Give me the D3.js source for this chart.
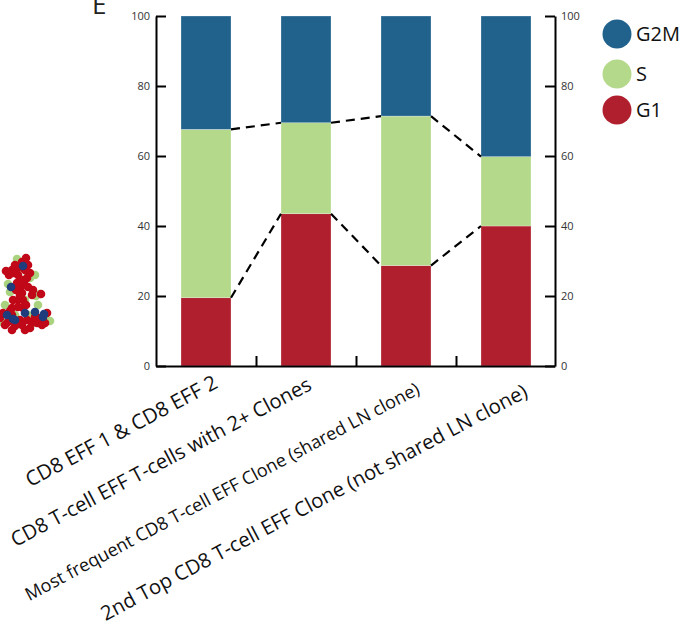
<!DOCTYPE html>
<html>
<head>
<meta charset="utf-8">
<script src="https://cdn.jsdelivr.net/npm/d3@7"></script>
<style>
  body { margin: 0; background: #fff; }
  svg { display: block; font-family: "Open Sans", "Noto Sans", sans-serif; }
</style>
</head>
<body>
<svg id="chart" width="690" height="627"></svg>
<script>
// ---- data ----
const categories = [
  "CD8 EFF 1 & CD8 EFF 2",
  "CD8 T-cell EFF T-cells with 2+ Clones",
  "Most frequent CD8 T-cell EFF Clone (shared LN clone)",
  "2nd Top CD8 T-cell EFF Clone (not shared LN clone)"
];
const phases = ["G1", "S", "G2M"];
const g1Values  = [19.5, 43.5, 28.7, 40.0];
const sValues   = [48.1, 26.0, 42.7, 19.8];
const g2mValues = [32.4, 30.5, 28.6, 40.2];
const yTicks = [0, 20, 40, 60, 80, 100];
const legendOrder = ["G2M", "S", "G1"];

// fragment of the neighbouring embedding panel: [dim1, dim2, phase]
const embedPoints = [
  [27,63,"S"],[30,57,"S"],[10,43,"S"],[40,41,"S"],[28,20,"S"],[33,12,"S"],[15,20,"S"],
  [2,13,"S"],[36,39,"S"],[8,51,"S"],[20,67,"S"],[45,17,"S"],[25,35,"S"],[35,60,"S"],
  [38,30,"S"],[5,30,"S"],[50,14,"S"],[17,76,"S"],
  [22,73,"G1"],[26,77,"G1"],[28,70,"G1"],[18,67,"G1"],[12,65,"G1"],[13,62,"G1"],[18,60,"G1"],
  [27,57,"G1"],[30,62,"G1"],[20,47,"G1"],[22,42,"G1"],[23,35,"G1"],[18,35,"G1"],[32,40,"G1"],
  [41,41,"G1"],[23,27,"G1"],[13,35,"G1"],[12,27,"G1"],[12,20,"G1"],[0,17,"G1"],[8,13,"G1"],
  [20,15,"G1"],[22,10,"G1"],[27,15,"G1"],[32,13,"G1"],[37,12,"G1"],[40,17,"G1"],[47,22,"G1"],
  [17,52,"G1"],[24,52,"G1"],[5,10,"G1"],[15,9,"G1"],[30,7,"G1"],[42,10,"G1"],[22,55,"G1"],
  [20,40,"G1"],[9,60,"G1"],[15,70,"G1"],[25,65,"G1"],[33,45,"G1"],[28,48,"G1"],[16,45,"G1"],
  [26,30,"G1"],[18,28,"G1"],[3,22,"G1"],[10,24,"G1"],[35,18,"G1"],[45,12,"G1"],[25,5,"G1"],
  [12,5,"G1"],[6,64,"G1"],
  [23,69,"G2M"],[11,48,"G2M"],[7,20,"G2M"],[13,16,"G2M"],[15,15,"G2M"],[25,22,"G2M"],
  [35,23,"G2M"],[44,21,"G2M"],[43,18,"G2M"]
];

// ---- styles & layout ----
const phaseColor = { G2M: "#21628c", S: "#b5d98b", G1: "#b01f2e" };
const embedColor = { G2M: "#1f3c7c", S: "#a9d37f", G1: "#c00818" };
const labelAngle = -28;
const labelLengths = [214, 337, 444, 480];
const labelNudge = [[13, 387], [7, 389], [15, 393], [23, 396]];

const svg = d3.select("#chart");

const x = d3.scaleBand().domain(categories).range([156, 556])
  .paddingInner(0.5).paddingOuter(0.25);
const y = d3.scaleLinear().domain([0, 100]).range([366, 16]);

// stacked bars
const rows = categories.map((c, i) => ({ cat: c, G1: g1Values[i], S: sValues[i], G2M: g2mValues[i] }));
const series = d3.stack().keys(phases)(rows);

svg.append("g").selectAll("g").data(series).join("g")
  .attr("fill", d => phaseColor[d.key])
  .selectAll("rect").data(d => d).join("rect")
  .attr("x", d => x(d.data.cat))
  .attr("width", x.bandwidth())
  .attr("y", d => y(d[1]))
  .attr("height", d => y(d[0]) - y(d[1]))
  .attr("stroke", "#ffffff").attr("stroke-opacity", 0.45).attr("stroke-width", 0.6);

// dashed connectors between stack boundaries of neighbouring bars
const connectors = [];
series.slice(0, 2).forEach(s => {
  for (let i = 0; i < categories.length - 1; i++) {
    connectors.push({
      x1: x(categories[i]) + x.bandwidth(), y1: y(s[i][1]),
      x2: x(categories[i + 1]), y2: y(s[i + 1][1])
    });
  }
});
svg.append("g").selectAll("line").data(connectors).join("line")
  .attr("x1", d => d.x1).attr("y1", d => d.y1)
  .attr("x2", d => d.x2).attr("y2", d => d.y2)
  .attr("stroke", "#000").attr("stroke-width", 2.2)
  .attr("stroke-dasharray", "9,6");

// axes
function styleAxis(g) {
  g.selectAll(".domain, .tick line").attr("stroke", "#000").attr("stroke-width", 2);
  g.selectAll(".tick text").attr("fill", "#333").attr("font-size", 11)
    .attr("font-family", "\"Open Sans\", sans-serif");
}
svg.append("g").attr("transform", "translate(156,0)")
  .call(d3.axisLeft(y).tickValues(yTicks).tickSize(-10).tickSizeOuter(0).tickPadding(6))
  .call(styleAxis);
svg.append("g").attr("transform", "translate(555,0)")
  .call(d3.axisRight(y).tickValues(yTicks).tickSize(-10).tickSizeOuter(0).tickPadding(6))
  .call(styleAxis);

// baseline with ticks between the bars
const boundaries = categories.slice(1).map(c => x(c) - x.step() * x.paddingInner() / 2);
const xAxis = svg.append("g").attr("transform", `translate(0,${y(0)})`)
  .call(d3.axisBottom(d3.scaleLinear().domain([156, 555]).range([156, 555]))
    .tickValues(boundaries).tickSize(-10).tickSizeOuter(0).tickFormat(""));
xAxis.call(styleAxis);

// rotated category labels, each fitted to its run length
svg.append("g").selectAll("text").data(categories).join("text")
  .attr("text-anchor", "end")
  .attr("fill", "#111")
  .attr("font-size", 18)
  .attr("transform", (d, i) =>
    `translate(${x(d) + x.bandwidth() / 2 + labelNudge[i][0]},${labelNudge[i][1]}) rotate(${labelAngle})`)
  .text(d => d)
  .each(function (d, i) {
    const len = this.getComputedTextLength();
    d3.select(this).attr("font-size", 18 * labelLengths[i] / len);
  });

// legend
const legend = svg.append("g").selectAll("g").data(legendOrder).join("g")
  .attr("transform", (d, i) => `translate(617,${[34, 74, 110][i]})`);
legend.append("circle").attr("r", 14.5).attr("fill", d => phaseColor[d]);
legend.append("text").attr("x", 19).attr("dy", "0.36em")
  .attr("font-size", 20).attr("fill", "#111").text(d => d);

// panel letter
svg.append("text").attr("x", 92).attr("y", 14).attr("font-size", 26)
  .attr("fill", "#222").text("E");

// neighbouring embedding fragment
const ex = d3.scaleLinear().domain([0, 55]).range([0, 55]);
const ey = d3.scaleLinear().domain([0, 85]).range([335, 250]);
svg.append("g").selectAll("circle")
  .data(["S", "G1", "G2M"].flatMap(p => embedPoints.filter(e => e[2] === p)))
  .join("circle")
  .attr("cx", d => ex(d[0])).attr("cy", d => ey(d[1])).attr("r", 4.3)
  .attr("fill", d => embedColor[d[2]]);
</script>
</body>
</html>
